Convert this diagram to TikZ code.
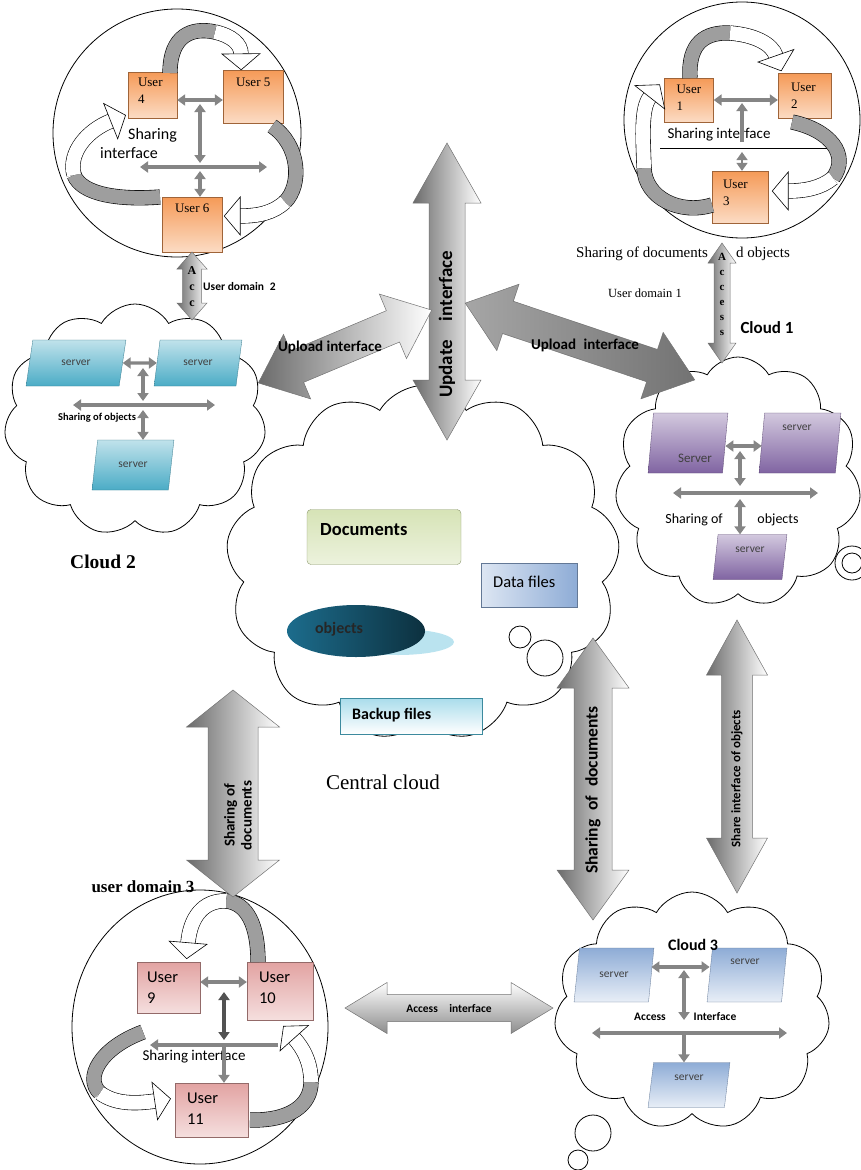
\documentclass[tikz,border=0pt]{standalone}
\usepackage{fontspec}
\setmainfont{Liberation Serif}
\setsansfont{Carlito}
\usetikzlibrary{arrows.meta,shapes.geometric,shapes.symbols,decorations.markings}

\definecolor{userorange}{HTML}{F59A57}
\definecolor{userpink}{HTML}{E2A3A2}
\definecolor{tealsrv}{HTML}{4BACC6}
\definecolor{purplesrv}{HTML}{8064A2}
\definecolor{bluesrv}{HTML}{8EACD6}
\definecolor{docgreen}{HTML}{C9DA9E}
\definecolor{objteal}{HTML}{1C6C8C}
\definecolor{bkpcyan}{HTML}{A9DCEB}

\newcommand{\fsz}[1]{\fontsize{#1}{#1}\selectfont}
% double headed block arrow along x: half length, half shaft, half head, head length
\newcommand{\twoway}[4]{(-#1,0) -- ({-#1+#4},#3) -- ({-#1+#4},#2) -- ({#1-#4},#2)
  -- ({#1-#4},#3) -- (#1,0) -- ({#1-#4},-#3) -- ({#1-#4},-#2) -- ({-#1+#4},-#2)
  -- ({-#1+#4},-#3) -- cycle}

\begin{document}
\begin{tikzpicture}[x=1pt,y=-1pt,
    >={Triangle[length=8pt,width=11pt]},
    link/.style={draw=black!48, line width=3.4pt},
    userbox/.style={draw=#1!65!black, line width=0.3pt, top color=#1, bottom color=#1!35, inner sep=0pt},
    usertxt/.style={anchor=north west, align=left, inner sep=0pt, font=#1},
    server/.style={trapezium, trapezium left angle=68, trapezium right angle=112,
      trapezium stretches=true, draw=#1!70!black, line width=0.3pt,
      top color=#1!35, bottom color=#1, inner sep=0pt, font=\sffamily\fsz{11.5}, text=black!75},
    srvtxt/.style={font=\sffamily\fsz{11.5}, inner sep=0pt, text=black!75},
    puff/.style={cloud, cloud puffs=11, cloud puff arc=120, cloud ignores aspect,
      draw, line width=0.8pt},
    bigarrow/.style={draw=black!55, line width=0.5pt},
    bendgray/.style={double=black!38, double distance=14pt, line width=0.6pt},
    bendwhite/.style={double=white, double distance=14pt, line width=0.6pt,
      postaction={decorate, decoration={markings, mark=at position 0.995 with
        {\draw[fill=white, line width=0.6pt] (0,-19) -- (16,0) -- (0,19) -- cycle;}}}},
    lbl/.style={font=\sffamily\bfseries\fsz{#1}, inner sep=0pt},
    serif/.style={font=\rmfamily\fsz{#1}, inner sep=0pt},
  ]
\useasboundingbox (0,0) rectangle (861,1170);

% domains and clouds
\draw[line width=0.8pt] (177,133) circle (124);
\draw[line width=0.8pt] (742,120) circle (118);
\draw[line width=0.8pt] (200,1027) ellipse (128 and 137);
\node[puff, minimum width=262, minimum height=232] (cloud2) at (135,420) {};
\node[puff, minimum width=246, minimum height=250] (cloud1) at (738,482) {};
\node[puff, cloud puffs=13, minimum width=394, minimum height=355] (central) at (423,563) {};
\node[puff, minimum width=276, minimum height=238] (cloud3) at (692,1011) {};
\draw[line width=0.8pt] (852,563) circle (17) (852,563) circle (10);
\draw[line width=0.8pt] (520,637) circle (11) (545,658) circle (18);
\draw[line width=0.8pt] (593,1133) circle (18) (578,1160) circle (10);

% user domain 2
\node[userbox=userorange, minimum width=49, minimum height=46] (u4) at (152.5,95) {};
\node[userbox=userorange, minimum width=60, minimum height=53] (u5) at (253,96.5) {};
\node[userbox=userorange, minimum width=60, minimum height=55] (u6) at (192,224.5) {};
\node[usertxt=\fsz{13}] (u4t) at ([shift={(10,6)}]u4.north west) {User\\[4pt]4};
\node[usertxt=\fsz{13}] (u5t) at ([shift={(13,8)}]u5.north west) {User 5};
\node[usertxt=\fsz{13}] (u6t) at ([shift={(13,7)}]u6.north west) {User 6};
\node[usertxt=\sffamily\fsz{16}] (d2sh) at (100,128) {\hspace{28pt}Sharing\\[3pt]interface};
\coordinate (d2a) at (200,104);
\coordinate (d2b) at (200,163);
\coordinate (d2l) at (140,167);
\coordinate (d2r) at (267,167);
\coordinate (d2c) at (200,171);
\draw[link,<->] (u4.east |- 0,100) -- (u5.west |- 0,100);
\draw[link,<->] (d2a) -- (d2b);
\draw[link,<->] (d2l) -- (d2r);
\draw[link,<->] (d2c) -- (u6.north -| d2c);
\draw[bendgray] (170,73) .. controls (170,35) and (192,27) .. (215,32);
\draw[bendwhite] (215,32) .. controls (232,36) and (241,44) .. (241,54);
\draw[bendgray] (272,126) .. controls (300,145) and (302,185) .. (285,202);
\draw[bendwhite] (285,202) .. controls (273,213) and (258,216) .. (240,216);
\draw[bendgray] (160,197) .. controls (120,200) and (82,195) .. (74,175);
\draw[bendwhite] (74,175) .. controls (68,152) and (88,130) .. (111,121);

% user domain 1
\draw[line width=0.6pt] (660,148) -- (843,148);
\node[userbox=userorange, minimum width=49, minimum height=44] (u1) at (689,100) {};
\node[userbox=userorange, minimum width=53, minimum height=45] (u2) at (804.5,96) {};
\node[userbox=userorange, minimum width=56, minimum height=52] (u3) at (740,197) {};
\node[usertxt=\fsz{13}] (u1t) at ([shift={(12,7)}]u1.north west) {User\\[4pt]1};
\node[usertxt=\fsz{13}] (u2t) at ([shift={(13,9)}]u2.north west) {User\\[4pt]2};
\node[usertxt=\fsz{13}] (u3t) at ([shift={(11,9)}]u3.north west) {User\\[4pt]3};
\node[font=\sffamily\fsz{15}, inner sep=0pt] (d1sh) at (719,135) {Sharing interface};
\coordinate (d1a) at (742,103);
\coordinate (d1b) at (742,142);
\coordinate (d1c) at (742,152);
\draw[link,<->] (u1.east |- 0,100) -- (u2.west |- 0,100);
\draw[link,->] (d1b) -- (d1a);
\draw[link,<->, line width=1.4pt, densely dashed] (d1c) -- (u3.north -| d1c);
\draw[bendgray] (690,78) .. controls (688,42) and (706,32) .. (730,33);
\draw[bendwhite] (730,33) .. controls (755,35) and (772,44) .. (776,56);
\draw[bendgray] (792,122) .. controls (830,130) and (850,155) .. (833,178);
\draw[bendwhite] (833,178) .. controls (821,188) and (805,191) .. (788,191);
\draw[bendgray] (712,205) .. controls (680,215) and (645,198) .. (644,168);
\draw[bendwhite] (644,168) .. controls (643,135) and (641,108) .. (650,97);
\node[serif=15] (sdoc1) at (642,254) {Sharing of documents};
\node[serif=15] (sdoc2) at (763,254) {d objects};
\node[serif=12.5] (ud1) at (645,293) {User domain 1};

% cloud 2
\node[server=tealsrv, minimum width=100, minimum height=46] (s21) at (76,363) {server};
\node[server=tealsrv, minimum width=88, minimum height=46] (s22) at (198,363) {server};
\node[server=tealsrv, minimum width=82, minimum height=50] (s23) at (133,465) {server};
\node[lbl=10.5] (c2sh) at (97,418) {Sharing of objects};
\coordinate (c2a) at (143,368);
\coordinate (c2b) at (143,401);
\coordinate (c2l) at (73,405);
\coordinate (c2r) at (215,405);
\coordinate (c2c) at (143,410);
\draw[link,<->] (s21.east) -- (s22.west);
\draw[link,<->] (c2a) -- (c2b);
\draw[link,<->] (c2l) -- (c2r);
\draw[link,<->] (c2c) -- (s23.north -| c2c);
\node[font=\rmfamily\bfseries\fsz{19.5}, inner sep=0pt] (c2lbl) at (103,562) {Cloud 2};

% cloud 1
\node[server=purplesrv, minimum width=80, minimum height=60] (s11) at (688,443) {\phantom{server}};
\node[server=purplesrv, minimum width=82, minimum height=60] (s12) at (800,443) {\phantom{server}};
\node[server=purplesrv, minimum width=74, minimum height=45] (s13) at (750,557) {\phantom{server}};
\node[srvtxt, font=\sffamily\fsz{13}] (s11t) at (695,458) {Server};
\node[srvtxt] (s12t) at (797,428) {server};
\node[srvtxt] (s13t) at (750,550) {server};
\node[font=\sffamily\fsz{14}, inner sep=0pt] (c1sh1) at (694,520) {Sharing of};
\node[font=\sffamily\fsz{14}, inner sep=0pt] (c1sh2) at (778,520) {objects};
\coordinate (c1a) at (740,451);
\coordinate (c1b) at (740,486);
\coordinate (c1l) at (673,493);
\coordinate (c1r) at (818,493);
\coordinate (c1c) at (740,499);
\draw[link,<->] (s11.east |- 0,446) -- (s12.west |- 0,446);
\draw[link,<->] (c1a) -- (c1b);
\draw[link,<->] (c1l) -- (c1r);
\draw[link,<->] (c1c) -- (s13.north -| c1c);

% central cloud
\node[draw=docgreen!70!black, line width=0.4pt, rounded corners=4pt, top color=docgreen!75,
  bottom color=docgreen!35, minimum width=154, minimum height=55] (docs) at (384,537) {};
\node[lbl=18.5, anchor=west] (docst) at (320,530) {Documents};
\node[draw=bluesrv!70!black, line width=0.4pt, left color=bluesrv!30, right color=bluesrv,
  minimum width=96, minimum height=44] (datf) at (529,585) {};
\node[font=\sffamily\fsz{16.5}, inner sep=0pt, anchor=west] (datft) at (493,582) {Data files};
\node[ellipse, fill=bkpcyan!80, minimum width=112, minimum height=26] (objsh) at (398,642) {};
\node[ellipse, left color=objteal, right color=objteal!45!black, minimum width=138,
  minimum height=52] (obj) at (356,631) {};
\node[lbl=16, text=black!85] (objt) at (339,629) {objects};
\node[draw=tealsrv!80!black, line width=0.4pt, top color=bkpcyan, bottom color=white,
  minimum width=142, minimum height=36] (bkp) at (411,716) {};
\node[lbl=16, anchor=west] (bkpt) at (352,715) {Backup files};
\node[serif=21] (cclbl) at (383,782) {Central cloud};

% cloud 3
\node[server=bluesrv, top color=bluesrv, bottom color=bluesrv!20, minimum width=80,
  minimum height=54] (s31) at (614,975) {server};
\node[server=bluesrv, top color=bluesrv, bottom color=bluesrv!20, minimum width=80,
  minimum height=54] (s32) at (747,975) {\phantom{server}};
\node[server=bluesrv, top color=bluesrv, bottom color=bluesrv!20, minimum width=82,
  minimum height=45] (s33) at (689,1085) {\phantom{server}};
\node[srvtxt] (s32t) at (745,962) {server};
\node[srvtxt] (s33t) at (689,1078) {server};
\node[lbl=16] (c3lbl) at (693,945) {Cloud 3};
\node[lbl=11.5] (c3acc) at (650,1017) {Access};
\node[lbl=11.5] (c3int) at (715,1017) {Interface};
\coordinate (c3a) at (684,970);
\coordinate (c3b) at (684,1020);
\coordinate (c3l) at (592,1033);
\coordinate (c3r) at (787,1033);
\coordinate (c3c) at (684,1033);
\draw[link,<->] (s31.east |- 0,967) -- (s32.west |- 0,967);
\draw[link,<->] (c3a) -- (c3b);
\draw[link,<->] (c3l) -- (c3r);
\draw[link,->] (c3c) -- (s33.north -| c3c);

% user domain 3
\node[userbox=userpink, minimum width=63, minimum height=51] (u9) at (168.5,987.5) {};
\node[userbox=userpink, minimum width=66, minimum height=58] (u10) at (280,991) {};
\node[userbox=userpink, minimum width=73, minimum height=54] (u11) at (211.5,1110) {};
\node[usertxt=\sffamily\fsz{16.5}] (u9t) at ([shift={(10,10)}]u9.north west) {User\\[4pt]9};
\node[usertxt=\sffamily\fsz{16.5}] (u10t) at ([shift={(12,10)}]u10.north west) {User\\[4pt]10};
\node[usertxt=\sffamily\fsz{16.5}] (u11t) at ([shift={(12,10)}]u11.north west) {User\\[4pt]11};
\node[font=\sffamily\fsz{15}, inner sep=0pt] (d3sh) at (194,1057) {Sharing interface};
\coordinate (d3a) at (224,992);
\coordinate (d3b) at (224,1040);
\coordinate (d3l) at (150,1045);
\coordinate (d3r) at (278,1045);
\coordinate (d3c) at (224,1045);
\draw[link,<->] (u9.east |- 0,982) -- (u10.west |- 0,982);
\draw[link,<->, draw=black!68] (d3a) -- (d3b);
\draw[link,->] (d3r) -- (d3l);
\draw[link,->] (d3c) -- (u11.north -| d3c);
\draw[bendgray] (258,962) .. controls (258,925) and (247,903) .. (226,901);
\draw[bendwhite] (226,901) .. controls (203,900) and (190,918) .. (188,943);
\draw[bendgray] (143,1032) .. controls (100,1048) and (84,1078) .. (100,1093);
\draw[bendwhite] (100,1093) .. controls (115,1104) and (135,1104) .. (155,1101);
\draw[bendgray] (250,1120) .. controls (290,1121) and (311,1105) .. (311,1082);
\draw[bendwhite] (311,1082) .. controls (311,1062) and (303,1048) .. (294,1038);
\node[font=\rmfamily\bfseries\fsz{17}, inner sep=0pt] (ud3) at (143,887) {user domain 3};

% block arrows
\begin{scope}[shift={(447,291.5)}, rotate=90]
  \shade[bigarrow, left color=black!58, right color=white] \twoway{148.5}{18}{34}{60};
  \node[lbl=19, transform shape] (updt) at (-33,0) {Update\quad interface};
\end{scope}
\begin{scope}[shift={(345,346.5)}, rotate=22.8]
  \shade[bigarrow, left color=black!58, right color=white] \twoway{94}{17}{35}{42};
\end{scope}
\node[lbl=15] (upl1) at (330,347) {Upload interface};
\begin{scope}[shift={(580,341.5)}, rotate=-18.5]
  \shade[bigarrow, left color=black!35, right color=black!55] \twoway{121}{17}{35}{45};
\end{scope}
\node[lbl=15] (upl2) at (585,345) {Upload\enspace interface};
\begin{scope}[shift={(192,286)}, rotate=90]
  \shade[bigarrow, left color=black!58, right color=white] \twoway{34}{9.5}{15}{17};
\end{scope}
\node[font=\rmfamily\bfseries\fsz{12}, align=center, inner sep=0pt] (acc2) at (192,287)
  {A\\[4pt]c\\[4pt]c};
\node[lbl=11.5, anchor=west] (ud2) at (203,287) {User domain\enspace 2};
\begin{scope}[shift={(722,303)}, rotate=90]
  \shade[bigarrow, left color=black!58, right color=white] \twoway{60}{8}{14}{20};
\end{scope}
\node[font=\rmfamily\bfseries\fsz{11}, align=center, inner sep=0pt] (acc1) at (722,294)
  {A\\[4pt]c\\[4pt]c\\[4pt]e\\[4pt]s\\[4pt]s};
\node[lbl=17] (c1lbl) at (767,328) {Cloud 1};
\begin{scope}[shift={(233,793.5)}, rotate=90]
  \shade[bigarrow, left color=black!58, right color=white] \twoway{103.5}{25}{46.5}{37};
  \node[lbl=15, transform shape, align=center] (shdl) at (-22,5) {Sharing of\\[2pt]documents};
\end{scope}
\begin{scope}[shift={(593,779)}, rotate=90]
  \shade[bigarrow, left color=black!58, right color=white] \twoway{141}{19}{36}{50};
  \node[lbl=17.5, transform shape] (shdr) at (-11,0) {Sharing\enspace of\enspace documents};
\end{scope}
\begin{scope}[shift={(737,756.5)}, rotate=90]
  \shade[bigarrow, left color=black!58, right color=white] \twoway{136.5}{15.5}{30.5}{55};
  \node[lbl=13, transform shape] (shob) at (-22,0) {Share interface of objects};
\end{scope}
\begin{scope}[shift={(449,1008)}]
  \shade[bigarrow, top color=white, bottom color=black!45] \twoway{104}{13.5}{25.5}{42};
  \node[lbl=11.5] (accint) at (0,0) {Access\quad interface};
\end{scope}
\end{tikzpicture}
\end{document}
